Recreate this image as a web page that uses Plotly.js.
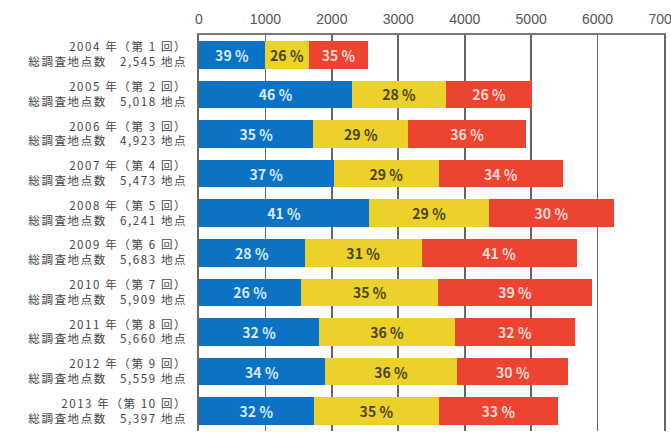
<!DOCTYPE html>
<html><head><meta charset="utf-8">
<script src="https://cdn.plot.ly/plotly-3.0.1.min.js"></script>
<style>html,body{margin:0;padding:0;background:#fff;overflow:hidden}#chart{width:671px;height:433px}
.ytick text{letter-spacing:1.6px}
</style>
</head><body><div id="chart"></div>
<script>
const years = ["2004","2005","2006","2007","2008","2009","2010","2011","2012","2013"];
const rounds = [1,2,3,4,5,6,7,8,9,10];
const totals = [2545,5018,4923,5473,6241,5683,5909,5660,5559,5397];
const totalLabels = ["2,545","5,018","4,923","5,473","6,241","5,683","5,909","5,660","5,559","5,397"];
const pctBlue = [39,46,35,37,41,28,26,32,34,32];
const pctYellow = [26,28,29,29,29,31,35,36,36,35];
const pctRed = [35,26,36,34,30,41,39,32,30,33];
const xTicks = [0,1000,2000,3000,4000,5000,6000,7000];

const cats = years.map((y,i)=> y + " 年（第 " + rounds[i] + " 回）<br>総調査地点数　" + totalLabels[i] + " 地点");

function seg(pcts, color, txtColor){
  return {
    type:'bar', orientation:'h', y:cats,
    x: pcts.map((p,i)=> totals[i]*p/100),
    text: pcts.map(p=> p + " ％"),
    textposition:'inside', insidetextanchor:'middle', constraintext:'none',
    textfont:{family:'"Noto Sans CJK JP", "Noto Sans", sans-serif', size:14, weight:'bold', color:txtColor},
    marker:{color:color, line:{width:0}},
    hoverinfo:'x+y', showlegend:false
  };
}
const data = [
  seg(pctBlue,'#0b72c4','#d6ebff'),
  seg(pctYellow,'#ecd12a','#4a4418'),
  seg(pctRed,'#ec4431','#ffd9d2')
];
const layout = {
  width:671, height:433,
  margin:{l:199, r:7, t:35, b:2},
  barmode:'stack', bargap:0.3,
  paper_bgcolor:'#fff', plot_bgcolor:'#fff',
  font:{family:'"Noto Sans CJK JP", "Noto Sans", sans-serif', color:'#444'},
  xaxis:{side:'top', range:[0,7000], tickvals:xTicks, ticktext:xTicks.map(String),
    showgrid:true, gridcolor:'#666', gridwidth:1.6, zeroline:false,
    showline:true, linecolor:'#777', linewidth:1.6,
    ticks:'', ticklabelstandoff:4, ticklabeloverflow:'allow',
    tickfont:{family:'"Liberation Sans", Arial, sans-serif', size:14, color:'#555'}, fixedrange:true},
  yaxis:{autorange:'reversed', showgrid:false, zeroline:false,
    showline:true, mirror:true, linecolor:'#666', linewidth:1.6, ticks:'',
    ticklabelstandoff:8,
    tickfont:{family:'"Noto Sans CJK JP", sans-serif', size:11.5, color:'#444'}, fixedrange:true}
};
Plotly.newPlot('chart', data, layout, {displayModeBar:false, staticPlot:true});
</script>
</body></html>
